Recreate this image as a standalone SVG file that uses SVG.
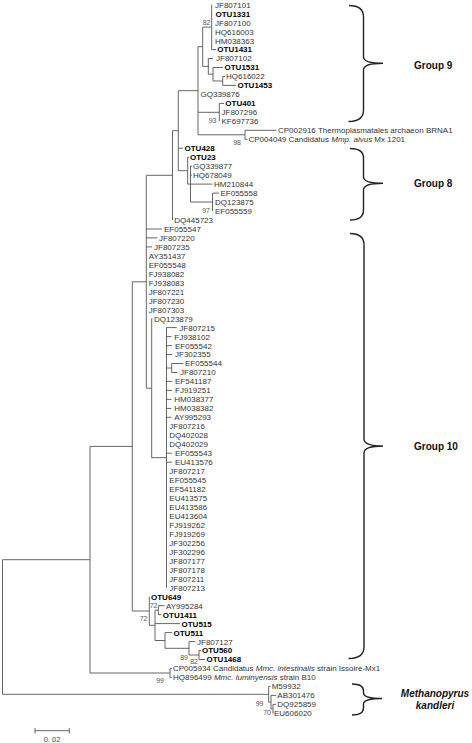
<svg xmlns="http://www.w3.org/2000/svg" width="472" height="743" viewBox="0 0 472 743">
<style>
text{font-family:"Liberation Sans",Arial,sans-serif}
.t{font-size:8px;fill:#333}
.b{font-weight:bold;fill:#000}
.bs{font-size:7px;fill:#555;text-anchor:end}
.br{fill:none;stroke:#555;stroke-width:0.9}
.brace{fill:none;stroke:#222;stroke-width:1.4}
.g{font-size:10px;font-weight:bold;fill:#111}
.i{font-style:italic}
</style>
<rect width="472" height="743" fill="#fff"/>
<g id="connectors" class="br">
<path d="M2.5 559.7V694.3M2.5 559.7H90M2.5 694.3H268.7"/>
<path d="M90 446.4V673M90 446.4H132.3M90 673H170"/>
<path d="M170 668.5V677.5M170 668.5H172M170 677.5H172"/>
<path d="M268.7 686.4V702.1M268.7 686.4H270.5M268.7 702.1H271"/>
<path d="M271 695.4V708.9M271 695.4H276M271 708.9H273"/>
<path d="M273 704.4V713.3M273 704.4H276M273 713.3H273.5"/>
<path d="M132.3 281.8V611M132.3 281.8H146.3M132.3 611H149.3"/>
<path d="M146.3 175.3V388.2M146.3 175.3H172.5M146.3 229H162M146.3 237.9H157.5M146.3 246.9H152M146.3 388.2H151.7"/>
<path d="M172.5 130.7V220M172.5 130.7H178.3"/>
<path d="M178.3 90.7V170.7M178.3 90.7H198M178.3 148.2H183M178.3 170.7H187.7"/>
<path d="M187.7 157.2V184.1M187.7 157.2H189M187.7 184.1H190.5"/>
<path d="M190.5 166.2V202M190.5 166.2H192M190.5 175.1H192M190.5 184.1H212.5M190.5 202H212.5"/>
<path d="M212.5 193.1V211M212.5 193.1H219"/>
<path d="M198 46.7V134.8M198 46.7H202.7M198 112.3H219.3M198 134.8H245"/>
<path d="M219.3 103.4V121.3M219.3 103.4H224"/>
<path d="M245 130.3V139.3M245 130.3H276.5M245 139.3H247.5"/>
<path d="M202.7 27.1V66.4M202.7 27.1H211.7M202.7 66.4H208.3"/>
<path d="M211.7 4.7V49.6M211.7 49.6H216"/>
<path d="M208.3 58.5V74.2M208.3 58.5H213M208.3 74.2H213"/>
<path d="M213 67.5V81M213 67.5H223M213 81H222.7"/>
<path d="M222.7 76.5V85.4M222.7 76.5H225M222.7 85.4H236"/>
<path d="M151.7 318.7V457.7M151.7 318.7H152.5M151.7 457.7H166.5"/>
<path d="M166.5 327.6V587.8M166.5 327.6H176.7M166.5 336.6H171.5M166.5 345.6H172M166.5 354.5H172M166.5 368H171.7M166.5 381.4H172M166.5 390.4H172M166.5 399.4H171.5M166.5 408.4H171.5M166.5 417.3H171.5M166.5 453.2H172M166.5 462.2H172"/>
<path d="M171.7 363.5V372.5M171.7 363.5H183.3M171.7 372.5H177.5"/>
<path d="M149.3 596.7V625.3M149.3 625.3H155"/>
<path d="M155 610.2V640.5M155 610.2H158.3M155 623.6H180M155 640.5H165"/>
<path d="M158.3 605.7V614.7M158.3 605.7H164.5M158.3 614.7H161.3"/>
<path d="M165 632.6V648.3M165 632.6H172M165 648.3H189"/>
<path d="M189 641.6V655M189 641.6H195.5M189 655H199"/>
<path d="M199 650.5V659.5M199 650.5H201M199 659.5H205"/>
</g>
<g id="bootstrap">
<text class="bs" x="210.5" y="24.5">82</text>
<text class="bs" x="216.5" y="123">93</text>
<text class="bs" x="241" y="144.5">98</text>
<text class="bs" x="210" y="212.5">97</text>
<text class="bs" x="157.5" y="608.2">72</text>
<text class="bs" x="147.5" y="620.5">72</text>
<text class="bs" x="188" y="659.5">89</text>
<text class="bs" x="198" y="663.5">82</text>
<text class="bs" x="164" y="683">99</text>
<text class="bs" x="263.5" y="705.5">99</text>
<text class="bs" x="271" y="715.2">70</text>
</g>
<g id="n-JF807101"><text class="t" x="215" y="7.6">JF807101</text></g>
<g id="n-OTU1331"><text class="t b" x="215.5" y="16.6">OTU1331</text></g>
<g id="n-JF807100"><text class="t" x="215" y="25.5">JF807100</text></g>
<g id="n-HQ616003"><text class="t" x="215" y="34.5">HQ616003</text></g>
<g id="n-HM038363"><text class="t" x="215" y="43.5">HM038363</text></g>
<g id="n-OTU1431"><text class="t b" x="217.3" y="52.4">OTU1431</text></g>
<g id="n-JF807102"><text class="t" x="216" y="61.4">JF807102</text></g>
<g id="n-OTU1531"><text class="t b" x="224.5" y="70.4">OTU1531</text></g>
<g id="n-HQ616022"><text class="t" x="226" y="79.4">HQ616022</text></g>
<g id="n-OTU1453"><text class="t b" x="237.5" y="88.3">OTU1453</text></g>
<g id="n-GQ339876"><text class="t" x="200.5" y="97.3">GQ339876</text></g>
<g id="n-OTU401"><text class="t b" x="225.3" y="106.3">OTU401</text></g>
<g id="n-JF807296"><text class="t" x="221.5" y="115.2">JF807296</text></g>
<g id="n-KF697736"><text class="t" x="221.5" y="124.2">KF697736</text></g>
<g id="n-CP002916"><text class="t" x="278" y="133.2">CP002916 Thermoplasmatales archaeon BRNA1</text></g>
<g id="n-CP004049"><text class="t" x="248.5" y="142.2">CP004049 Candidatus <tspan class="i">Mmp. alvus</tspan> Mx 1201</text></g>
<g id="n-OTU428"><text class="t b" x="184.5" y="151.1">OTU428</text></g>
<g id="n-OTU23"><text class="t b" x="190" y="160.1">OTU23</text></g>
<g id="n-GQ339877"><text class="t" x="193" y="169.1">GQ339877</text></g>
<g id="n-HQ678049"><text class="t" x="193" y="178">HQ678049</text></g>
<g id="n-HM210844"><text class="t" x="214" y="187">HM210844</text></g>
<g id="n-EF055558"><text class="t" x="220.5" y="196">EF055558</text></g>
<g id="n-DQ123875"><text class="t" x="215" y="204.9">DQ123875</text></g>
<g id="n-EF055559"><text class="t" x="215" y="213.9">EF055559</text></g>
<g id="n-DQ445723"><text class="t" x="174.3" y="222.9">DQ445723</text></g>
<g id="n-EF055547"><text class="t" x="164" y="231.9">EF055547</text></g>
<g id="n-JF807220"><text class="t" x="159" y="240.8">JF807220</text></g>
<g id="n-JF807235"><text class="t" x="154" y="249.8">JF807235</text></g>
<g id="n-AY351437"><text class="t" x="148.7" y="258.8">AY351437</text></g>
<g id="n-EF055548"><text class="t" x="148.7" y="267.7">EF055548</text></g>
<g id="n-FJ938082"><text class="t" x="148.7" y="276.7">FJ938082</text></g>
<g id="n-FJ938083"><text class="t" x="148.7" y="285.7">FJ938083</text></g>
<g id="n-JF807221"><text class="t" x="148.7" y="294.6">JF807221</text></g>
<g id="n-JF807230"><text class="t" x="148.7" y="303.6">JF807230</text></g>
<g id="n-JF807303"><text class="t" x="148.7" y="312.6">JF807303</text></g>
<g id="n-DQ123879"><text class="t" x="154" y="321.6">DQ123879</text></g>
<g id="n-JF807215"><text class="t" x="179.3" y="330.5">JF807215</text></g>
<g id="n-FJ938102"><text class="t" x="174.3" y="339.5">FJ938102</text></g>
<g id="n-EF055542"><text class="t" x="175" y="348.5">EF055542</text></g>
<g id="n-JF302355"><text class="t" x="175" y="357.4">JF302355</text></g>
<g id="n-EF055544"><text class="t" x="185" y="366.4">EF055544</text></g>
<g id="n-JF807210"><text class="t" x="180" y="375.4">JF807210</text></g>
<g id="n-EF541187"><text class="t" x="175" y="384.3">EF541187</text></g>
<g id="n-FJ919251"><text class="t" x="175" y="393.3">FJ919251</text></g>
<g id="n-HM038377"><text class="t" x="174.3" y="402.3">HM038377</text></g>
<g id="n-HM038382"><text class="t" x="174.3" y="411.3">HM038382</text></g>
<g id="n-AY995293"><text class="t" x="174.3" y="420.2">AY995293</text></g>
<g id="n-JF807216"><text class="t" x="169.3" y="429.2">JF807216</text></g>
<g id="n-DQ402028"><text class="t" x="169.3" y="438.2">DQ402028</text></g>
<g id="n-DQ402029"><text class="t" x="169.3" y="447.1">DQ402029</text></g>
<g id="n-EF055543"><text class="t" x="175" y="456.1">EF055543</text></g>
<g id="n-EU413576"><text class="t" x="175" y="465.1">EU413576</text></g>
<g id="n-JF807217"><text class="t" x="169.3" y="474">JF807217</text></g>
<g id="n-EF055545"><text class="t" x="169.3" y="483">EF055545</text></g>
<g id="n-EF541182"><text class="t" x="169.3" y="492">EF541182</text></g>
<g id="n-EU413575"><text class="t" x="169.3" y="501">EU413575</text></g>
<g id="n-EU413586"><text class="t" x="169.3" y="509.9">EU413586</text></g>
<g id="n-EU413604"><text class="t" x="169.3" y="518.9">EU413604</text></g>
<g id="n-FJ919262"><text class="t" x="169.3" y="527.9">FJ919262</text></g>
<g id="n-FJ919269"><text class="t" x="169.3" y="536.8">FJ919269</text></g>
<g id="n-JF302256"><text class="t" x="169.3" y="545.8">JF302256</text></g>
<g id="n-JF302296"><text class="t" x="169.3" y="554.8">JF302296</text></g>
<g id="n-JF807177"><text class="t" x="169.3" y="563.7">JF807177</text></g>
<g id="n-JF807178"><text class="t" x="169.3" y="572.7">JF807178</text></g>
<g id="n-JF807211"><text class="t" x="169.3" y="581.7">JF807211</text></g>
<g id="n-JF807213"><text class="t" x="169.3" y="590.7">JF807213</text></g>
<g id="n-OTU649"><text class="t b" x="151" y="599.6">OTU649</text></g>
<g id="n-AY995284"><text class="t" x="166" y="608.6">AY995284</text></g>
<g id="n-OTU1411"><text class="t b" x="162.8" y="617.6">OTU1411</text></g>
<g id="n-OTU515"><text class="t b" x="181.5" y="626.5">OTU515</text></g>
<g id="n-OTU511"><text class="t b" x="173.5" y="635.5">OTU511</text></g>
<g id="n-JF807127"><text class="t" x="197" y="644.5">JF807127</text></g>
<g id="n-OTU560"><text class="t b" x="202" y="653.4">OTU560</text></g>
<g id="n-OTU1468"><text class="t b" x="206.5" y="662.4">OTU1468</text></g>
<g id="n-CP005934"><text class="t" x="173" y="671.4">CP005934 Candidatus <tspan class="i">Mmc. intestinalis</tspan> strain Issoire-Mx1</text></g>
<g id="n-HQ896499"><text class="t" x="173" y="680.4">HQ896499 <tspan class="i">Mmc. luminyensis</tspan> strain B10</text></g>
<g id="n-M59932"><text class="t" x="271.7" y="689.3">M59932</text></g>
<g id="n-AB301476"><text class="t" x="277.3" y="698.3">AB301476</text></g>
<g id="n-DQ925859"><text class="t" x="277.3" y="707.3">DQ925859</text></g>
<g id="n-EU606020"><text class="t" x="274" y="716.2">EU606020</text></g>
<g id="group9">
<path class="brace" d="M349 5.5Q363.5 5.5 363.5 17V57Q363.5 63.3 383 63.3Q363.5 63.3 363.5 70V110Q363.5 121.5 348.5 121.5"/>
<text class="g" x="414" y="68.5">Group 9</text>
</g>
<g id="group8">
<path class="brace" d="M350 148.5Q363.5 148.5 363.5 158V177Q363.5 183.3 383 183.3Q363.5 183.3 363.5 190V210Q363.5 220 350 220"/>
<text class="g" x="414" y="187">Group 8</text>
</g>
<g id="group10">
<path class="brace" d="M350 233.5Q364 233.5 364 245V439Q364 446 383 446Q364 446 364 453V647Q364 658.5 348.5 658.5"/>
<text class="g" x="414" y="449.5">Group 10</text>
</g>
<g id="methanopyrus">
<path class="brace" d="M352 684Q363.5 684 363.5 691V693Q363.5 698.5 382 698.5Q363.5 698.5 363.5 704V708Q363.5 715 352 715"/>
<text class="g i" x="435" y="696.5" text-anchor="middle">Methanopyrus</text>
<text class="g i" x="435" y="709" text-anchor="middle">kandleri</text>
</g>
<g id="scalebar">
<path class="br" d="M35 730.7H69.3M35 728V733.5M69.3 728V733.5"/>
<text x="52" y="742" text-anchor="middle" font-size="7.5" fill="#444">0. 02</text>
</g>
</svg>
